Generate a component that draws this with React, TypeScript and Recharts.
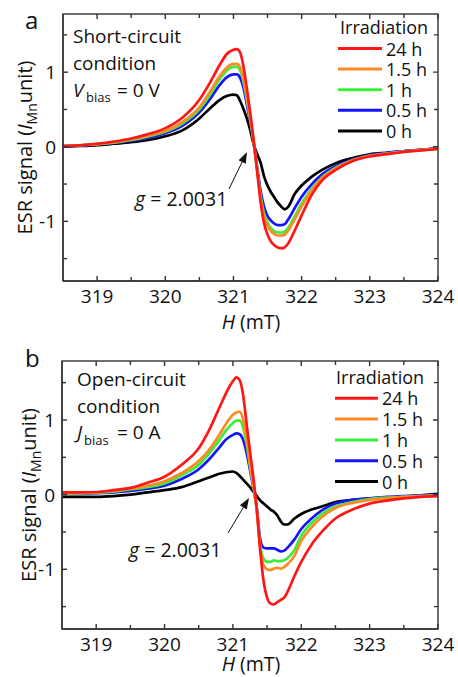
import React from 'react';
import { LineChart, Line, XAxis, YAxis, Legend } from 'recharts';

const FONT = '"Open Sans", "DejaVu Sans", sans-serif';
const FRAME = '#333333';

// magnetic field (mT)
const fieldH = [318.5, 318.75, 319, 319.25, 319.5, 319.75, 320, 320.25, 320.5, 320.65, 320.8, 320.9, 321, 321.05, 321.1, 321.15, 321.2, 321.25, 321.3, 321.35, 321.4, 321.45, 321.5, 321.55, 321.6, 321.65, 321.7, 321.75, 321.8, 321.9, 322, 322.15, 322.3, 322.5, 322.75, 323, 323.25, 323.5, 323.75, 324];

// panel a: short-circuit condition
const shortC24h = [0.01, 0.02, 0.04, 0.07, 0.11, 0.17, 0.25, 0.39, 0.63, 0.85, 1.10, 1.24, 1.30, 1.31, 1.26, 1.06, 0.76, 0.43, 0.06, -0.35, -0.75, -1.03, -1.18, -1.27, -1.32, -1.35, -1.36, -1.35, -1.30, -1.12, -0.92, -0.64, -0.45, -0.31, -0.19, -0.13, -0.10, -0.07, -0.05, -0.03];
const shortC15h = [0.01, 0.02, 0.035, 0.06, 0.10, 0.15, 0.21, 0.33, 0.53, 0.73, 0.95, 1.06, 1.11, 1.11, 1.06, 0.90, 0.64, 0.36, 0.04, -0.33, -0.70, -0.94, -1.06, -1.13, -1.17, -1.19, -1.19, -1.18, -1.13, -0.97, -0.80, -0.58, -0.42, -0.29, -0.18, -0.12, -0.09, -0.065, -0.045, -0.025];
const shortC1h = [0.01, 0.02, 0.035, 0.055, 0.09, 0.14, 0.20, 0.31, 0.50, 0.69, 0.91, 1.02, 1.07, 1.07, 1.02, 0.86, 0.61, 0.34, 0.04, -0.32, -0.67, -0.90, -1.02, -1.09, -1.13, -1.15, -1.15, -1.14, -1.09, -0.93, -0.76, -0.56, -0.41, -0.28, -0.18, -0.12, -0.09, -0.065, -0.045, -0.025];
const shortC05h = [0.01, 0.015, 0.03, 0.05, 0.08, 0.12, 0.18, 0.28, 0.46, 0.63, 0.83, 0.93, 0.97, 0.97, 0.92, 0.78, 0.55, 0.31, 0.03, -0.29, -0.60, -0.81, -0.93, -0.99, -1.03, -1.05, -1.05, -1.04, -0.98, -0.82, -0.67, -0.50, -0.37, -0.26, -0.17, -0.11, -0.08, -0.06, -0.04, -0.02];
const shortC0h = [0.0, 0.01, 0.02, 0.04, 0.06, 0.09, 0.14, 0.22, 0.38, 0.51, 0.63, 0.68, 0.70, 0.69, 0.61, 0.50, 0.37, 0.21, 0.02, -0.10, -0.22, -0.40, -0.52, -0.61, -0.68, -0.75, -0.80, -0.84, -0.81, -0.63, -0.52, -0.40, -0.31, -0.22, -0.15, -0.10, -0.08, -0.06, -0.04, -0.02];

// panel b: open-circuit condition
const openC24h = [0.03, 0.03, 0.035, 0.06, 0.09, 0.16, 0.24, 0.40, 0.62, 0.86, 1.16, 1.36, 1.52, 1.57, 1.53, 1.33, 0.95, 0.58, 0.22, -0.20, -0.75, -1.17, -1.38, -1.46, -1.47, -1.44, -1.41, -1.38, -1.30, -1.09, -0.90, -0.67, -0.50, -0.32, -0.20, -0.12, -0.08, -0.05, -0.03, -0.02];
const openC15h = [0.02, 0.02, 0.03, 0.05, 0.08, 0.12, 0.18, 0.29, 0.45, 0.60, 0.80, 0.95, 1.07, 1.10, 1.11, 1.00, 0.75, 0.41, 0.12, -0.22, -0.72, -0.95, -1.00, -1.01, -0.99, -0.98, -0.99, -0.97, -0.93, -0.82, -0.62, -0.44, -0.30, -0.18, -0.11, -0.07, -0.05, -0.03, -0.02, -0.01];
const openC1h = [0.01, 0.015, 0.025, 0.04, 0.07, 0.10, 0.15, 0.26, 0.40, 0.55, 0.73, 0.86, 0.96, 0.99, 0.99, 0.90, 0.68, 0.38, 0.11, -0.21, -0.68, -0.86, -0.90, -0.90, -0.88, -0.89, -0.89, -0.88, -0.85, -0.74, -0.55, -0.38, -0.26, -0.16, -0.10, -0.06, -0.04, -0.03, -0.02, -0.01];
const openC05h = [0.01, 0.01, 0.02, 0.03, 0.05, 0.08, 0.12, 0.21, 0.34, 0.47, 0.63, 0.74, 0.80, 0.82, 0.81, 0.73, 0.56, 0.33, 0.09, -0.19, -0.60, -0.71, -0.72, -0.72, -0.72, -0.74, -0.76, -0.75, -0.71, -0.60, -0.46, -0.32, -0.21, -0.12, -0.07, -0.05, -0.03, -0.02, -0.01, 0.0];
const openC0h = [-0.03, -0.03, -0.03, -0.02, 0.0, 0.03, 0.06, 0.10, 0.18, 0.23, 0.28, 0.30, 0.31, 0.29, 0.25, 0.20, 0.15, 0.10, 0.04, -0.02, -0.08, -0.12, -0.16, -0.20, -0.23, -0.28, -0.36, -0.40, -0.40, -0.32, -0.26, -0.20, -0.16, -0.10, -0.07, -0.05, -0.04, -0.03, -0.01, 0.01];

// series (drawn bottom to top)
const seriesKeys = ['s0', 's05', 's1', 's15', 's24'];
const seriesNames = ['0 h', '0.5 h', '1 h', '1.5 h', '24 h'];
const seriesColors = ['#000000', '#1414ff', '#38ee38', '#ff8a24', '#ff1616'];

// ticks
const xMajorTicks = [319, 320, 321, 322, 323, 324];
const xMinorTicks = [319.5, 320.5, 321.5, 322.5, 323.5];
const yMajorTicks = [-1, 0, 1];
const yMinorTicks = [-1.5, -0.5, 0.5, 1.5];
const xTicks = [...xMajorTicks, ...xMinorTicks].sort((a, b) => a - b);
const yTicks = [...yMajorTicks, ...yMinorTicks].sort((a, b) => a - b);
const xDomain: [number, number] = [318.5, 324];

const buildRows = (cols: number[][]) =>
  fieldH.map((h, i) => {
    const row: Record<string, number> = { h };
    seriesKeys.forEach((k, j) => {
      row[k] = cols[j][i];
    });
    return row;
  });

const rowsA = buildRows([shortC0h, shortC05h, shortC1h, shortC15h, shortC24h]);
const rowsB = buildRows([openC0h, openC05h, openC1h, openC15h, openC24h]);

const MAJOR = 5;
const MINOR = 4;
const W = 458;
const RIGHT_MARGIN = 20;
const SW = 1.4;

const BottomTick = (props: any) => {
  const { x, y, payload } = props;
  const v = payload.value;
  const major = xMajorTicks.includes(v);
  return (
    <g>
      <line x1={x} x2={x} y1={y} y2={y - (major ? MAJOR : MINOR)} stroke={FRAME} strokeWidth={SW} />
      {major && (
        <text x={x} y={y + 22} textAnchor="middle" fontSize={19} fontFamily={FONT} fill="#111">
          {v}
        </text>
      )}
    </g>
  );
};

const LeftTick = (props: any) => {
  const { x, y, payload } = props;
  const v = payload.value;
  const major = yMajorTicks.includes(v);
  return (
    <g>
      <line x1={x} x2={x + (major ? MAJOR : MINOR)} y1={y} y2={y} stroke={FRAME} strokeWidth={SW} />
      {major && (
        <text x={x - 7} y={y + 7} textAnchor="end" fontSize={19} fontFamily={FONT} fill="#111">
          {v}
        </text>
      )}
    </g>
  );
};

type LegendPos = { headX: number; headY: number; lineX1: number; lineX2: number; textX: number; y0: number; step: number };

const makeLegend = (pos: LegendPos, w: number, h: number) => (props: any) => {
  const items = [...(props.payload || [])].reverse();
  return (
    <svg width={w} height={h} style={{ display: 'block', overflow: 'visible' }}>
      <text x={pos.headX} y={pos.headY} fontSize={18} fontFamily={FONT} fill="#111">
        Irradiation
      </text>
      {items.map((it: any, i: number) => {
        const y = pos.y0 + i * pos.step;
        return (
          <g key={String(it.value)}>
            <line x1={pos.lineX1} x2={pos.lineX2} y1={y} y2={y} stroke={it.color} strokeWidth={3} />
            <text x={pos.textX} y={y + 7} fontSize={18} fontFamily={FONT} fill="#111">
              {it.value}
            </text>
          </g>
        );
      })}
    </svg>
  );
};

const Arrow = ({ tail, tip }: { tail: [number, number]; tip: [number, number] }) => {
  const dx = tip[0] - tail[0];
  const dy = tip[1] - tail[1];
  const len = Math.sqrt(dx * dx + dy * dy);
  const ux = dx / len;
  const uy = dy / len;
  const hl = 11;
  const hw = 4;
  const bx = tip[0] - hl * ux;
  const by = tip[1] - hl * uy;
  const px = -uy;
  const py = ux;
  return (
    <g>
      <line x1={tail[0]} y1={tail[1]} x2={bx + 2 * ux} y2={by + 2 * uy} stroke="#111" strokeWidth={1} />
      <polygon points={`${tip[0]},${tip[1]} ${bx + hw * px},${by + hw * py} ${bx - hw * px},${by - hw * py}`} fill="#111" />
    </g>
  );
};

type Box = { x0: number; x1: number; y0: number; y1: number; yDomain: [number, number] };

// closed plot frame with mirrored inward ticks on the top and right sides
const MirrorFrame = ({ box }: { box: Box }) => {
  const { x0, x1, y0, y1, yDomain } = box;
  const sx = (v: number) => x0 + ((v - xDomain[0]) / (xDomain[1] - xDomain[0])) * (x1 - x0);
  const sy = (v: number) => y1 - ((v - yDomain[0]) / (yDomain[1] - yDomain[0])) * (y1 - y0);
  const segs: string[] = [];
  xTicks.forEach((t) => {
    const len = xMajorTicks.includes(t) ? MAJOR : MINOR;
    segs.push(`M${sx(t)},${y0}L${sx(t)},${y0 + len}`);
  });
  yTicks.forEach((t) => {
    const len = yMajorTicks.includes(t) ? MAJOR : MINOR;
    segs.push(`M${x1},${sy(t)}L${x1 - len},${sy(t)}`);
  });
  return (
    <g>
      <rect x={x0} y={y0} width={x1 - x0} height={y1 - y0} fill="none" stroke={FRAME} strokeWidth={SW} />
      <path d={segs.join('')} fill="none" stroke={FRAME} strokeWidth={SW} />
    </g>
  );
};

type PanelProps = {
  rows: Record<string, number>[];
  height: number;
  top: number;
  yAxisWidth: number;
  xAxisHeight: number;
  yDomain: [number, number];
  legend: LegendPos;
  letter: string;
  letterY: number;
  lines: string[];
  textX: number;
  textY0: number;
  varName: string;
  varRest: string;
  varY: number;
  subX: number;
  subY: number;
  gX: number;
  gY: number;
  arrowTail: [number, number];
  arrowTip: [number, number];
  yLabelX: number;
  yLabelY: number;
  xLabelY: number;
};

const Panel = (p: PanelProps) => {
  const box: Box = {
    x0: p.yAxisWidth,
    x1: W - RIGHT_MARGIN,
    y0: p.top,
    y1: p.height - p.xAxisHeight,
    yDomain: p.yDomain,
  };
  return (
    <div style={{ position: 'relative', width: W, height: p.height }}>
      <LineChart width={W} height={p.height} data={p.rows} margin={{ top: p.top, right: RIGHT_MARGIN, left: 0, bottom: 0 }}>
        <XAxis
          dataKey="h"
          type="number"
          domain={xDomain}
          ticks={xTicks}
          interval={0}
          height={p.xAxisHeight}
          tickSize={0}
          tickMargin={0}
          tickLine={false}
          axisLine={{ stroke: FRAME, strokeWidth: SW }}
          tick={BottomTick}
          allowDataOverflow
        />
        <YAxis
          type="number"
          domain={p.yDomain}
          ticks={yTicks}
          interval={0}
          width={p.yAxisWidth}
          tickSize={0}
          tickMargin={0}
          tickLine={false}
          axisLine={{ stroke: FRAME, strokeWidth: SW }}
          tick={LeftTick}
          allowDataOverflow
        />
        <Legend
          layout="vertical"
          align="center"
          verticalAlign="middle"
          wrapperStyle={{ left: 0, top: 0, width: W, height: 160, pointerEvents: 'none' }}
          content={makeLegend(p.legend, W, 160)}
        />
        {seriesKeys.map((k, i) => (
          <Line
            key={k}
            dataKey={k}
            name={seriesNames[i]}
            stroke={seriesColors[i]}
            strokeWidth={2.7}
            type="monotone"
            dot={false}
            activeDot={false}
            isAnimationActive={false}
          />
        ))}
      </LineChart>
      <svg
        width={W}
        height={p.height}
        viewBox={`0 0 ${W} ${p.height}`}
        style={{ position: 'absolute', left: 0, top: 0, zIndex: 5, pointerEvents: 'none', overflow: 'visible' }}
      >
        <MirrorFrame box={box} />
        <text x={25} y={p.letterY} fontSize={24} fontFamily={FONT} fill="#111">
          {p.letter}
        </text>
        {p.lines.map((t, i) => (
          <text key={t} x={p.textX} y={p.textY0 + i * 27} fontSize={19} fontFamily={FONT} fill="#111">
            {t}
          </text>
        ))}
        <text x={p.textX} y={p.varY} fontSize={19} fontFamily={FONT} fill="#111">
          <tspan fontStyle="italic">{p.varName}</tspan>
          <tspan x={p.subX} y={p.subY} fontSize={13}>bias</tspan>
          <tspan x={117} y={p.varY}>{p.varRest}</tspan>
        </text>
        <text x={p.gX} y={p.gY} fontSize={19.5} fontFamily={FONT} fill="#111">
          <tspan fontStyle="italic">g</tspan> = 2.0031
        </text>
        <Arrow tail={p.arrowTail} tip={p.arrowTip} />
        <text
          transform={`translate(${p.yLabelX},${p.yLabelY}) rotate(-90)`}
          textAnchor="middle"
          fontSize={20}
          fontFamily={FONT}
          fill="#111"
        >
          ESR signal (<tspan fontStyle="italic">I</tspan>
          <tspan fontSize={14} dy={5}>Mn</tspan>
          <tspan dy={-5}>unit)</tspan>
        </text>
        <text x={251} y={p.xLabelY} textAnchor="middle" fontSize={19.5} fontFamily={FONT} fill="#111">
          <tspan fontStyle="italic">H</tspan> (mT)
        </text>
      </svg>
    </div>
  );
};

export default function App() {
  return (
    <div style={{ position: 'absolute', left: 0, top: 0, width: 458, height: 677, background: '#fff', overflow: 'hidden' }}>
      <div style={{ position: 'absolute', left: 0, top: 0 }}>
        <Panel
          rows={rowsA}
          height={340}
          top={14}
          yAxisWidth={63}
          xAxisHeight={59}
          yDomain={[-1.8, 1.78]}
          legend={{ headX: 340, headY: 34, lineX1: 338, lineX2: 382, textX: 386, y0: 48.5, step: 20.6 }}
          letter="a"
          letterY={29}
          lines={['Short-circuit', 'condition']}
          textX={73}
          textY0={43}
          varName="V"
          varRest="= 0 V"
          varY={97}
          subX={86}
          subY={102}
          gX={135}
          gY={206}
          arrowTail={[229, 189]}
          arrowTip={[247, 152]}
          yLabelX={31.5}
          yLabelY={147.5}
          xLabelY={329}
        />
      </div>
      <div style={{ position: 'absolute', left: 0, top: 340 }}>
        <Panel
          rows={rowsB}
          height={337}
          top={21}
          yAxisWidth={62}
          xAxisHeight={48}
          yDomain={[-1.8, 1.79]}
          legend={{ headX: 336, headY: 44, lineX1: 335, lineX2: 378, textX: 382, y0: 58.3, step: 20.8 }}
          letter="b"
          letterY={27}
          lines={['Open-circuit', 'condition']}
          textX={77}
          textY0={46}
          varName="J"
          varRest="= 0 A"
          varY={99}
          subX={84}
          subY={105}
          gX={129}
          gY={217}
          arrowTail={[228, 193]}
          arrowTip={[249, 158]}
          yLabelX={36}
          yLabelY={155}
          xLabelY={331}
        />
      </div>
    </div>
  );
}
